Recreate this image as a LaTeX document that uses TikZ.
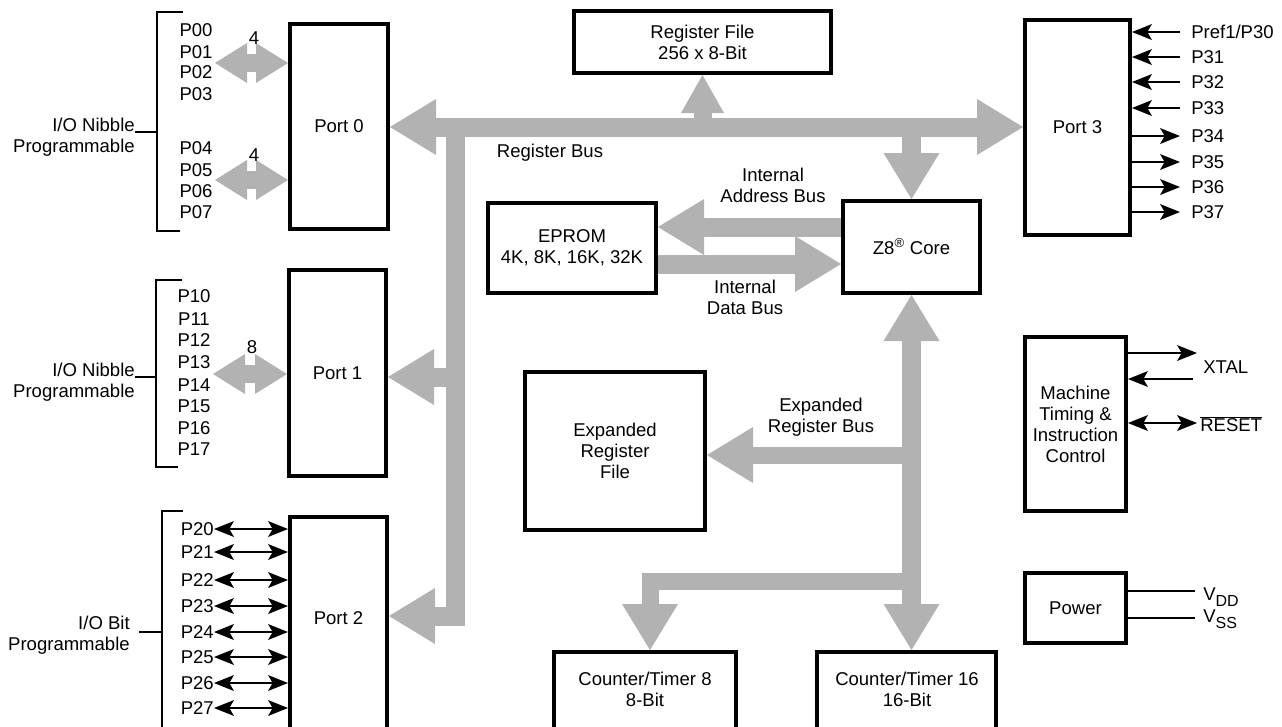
\documentclass[tikz,border=0pt]{standalone}
\usepackage{fontspec}
\setmainfont{Liberation Sans}
\usetikzlibrary{arrows.meta}
\definecolor{busgray}{RGB}{178,178,178}
\begin{document}
\begin{tikzpicture}[x=0.75pt,y=-0.75pt,
  every node/.style={font=\fontsize{13.9pt}{15.75pt}\selectfont, inner sep=0pt},
  box/.style={draw, line width=3pt, align=center},
  txt/.style={align=center},
  bigtip/.tip={Triangle[length=34.5pt,width=42pt,line width=0pt]},
  smalltip/.tip={Triangle[length=24pt,width=30pt,line width=0pt]},
  regtip/.tip={Triangle[length=28.5pt,width=32.25pt,line width=0pt]},
  pintip/.tip={Stealth[length=15pt,width=12pt,inset=3.5pt,line width=0pt]},
  busarr/.style={draw=busgray, line width=14.25pt, line cap=butt, -bigtip},
  busdbl/.style={draw=busgray, line width=14.25pt, line cap=butt, bigtip-bigtip},
  smalldbl/.style={draw=busgray, line width=13.5pt, line cap=butt, smalltip-smalltip},
  regarr/.style={draw=busgray, line width=13.5pt, line cap=butt, -regtip},
  pin/.style={line width=1.4pt},
  brk/.style={line width=1.6pt}]
\useasboundingbox (0,0) rectangle (1282,726);
\clip (0,0) rectangle (1282,726);

% ---------- boxes ----------
\node[box, minimum width=73.5pt, minimum height=153.75pt] (port0) at (339,126.5) {Port 0};
\node[box, minimum width=72.75pt, minimum height=154.5pt] (port1) at (337.5,373) {Port 1};
\node[box, minimum width=72.75pt, minimum height=167.25pt] (port2) at (338.5,628.5) {};
\node[txt] (port2t) at (338.5,618) {Port 2};
\node[box, minimum width=78.75pt, minimum height=161.25pt] (port3) at (1077.5,127.5) {Port 3};
\node[box, minimum width=192.75pt, minimum height=46.5pt] (regfile) at (702.5,42) {Register File\\256 x 8-Bit};
\node[box, minimum width=126pt, minimum height=67.5pt] (eprom) at (572,248) {EPROM\\4K, 8K, 16K, 32K};
\node[box, minimum width=102.75pt, minimum height=69pt] (z8) at (911.5,247) {Z8\textsuperscript{\textregistered} Core};
\node[box, minimum width=135pt, minimum height=118.5pt] (expreg) at (615,451) {Expanded\\Register\\File};
\node[box, minimum width=136.5pt, minimum height=73.5pt] (ct8) at (645,701) {};
\node[txt] (ct8t) at (645,689) {Counter/Timer 8\\8-Bit};
\node[box, minimum width=134.25pt, minimum height=73.5pt] (ct16) at (906.5,701) {};
\node[txt] (ct16t) at (907,689) {Counter/Timer 16\\16-Bit};
\node[box, minimum width=75.75pt, minimum height=130.5pt] (mach) at (1075.5,424) {Machine\\Timing \&\\Instruction\\Control};
\node[box, minimum width=75.75pt, minimum height=52.5pt] (power) at (1075.5,608) {Power};

% ---------- grey buses ----------
\coordinate (rb) at (455,127);
\coordinate (p1c) at (455,377);
\coordinate (p2c) at (455,616);
\draw[busdbl] (rb -| port0.east) -- (rb -| port3.west);
\draw[busarr, line join=miter] (rb) -- (p2c) -- (p2c -| port2.east);
\draw[busarr] (p1c) -- (p1c -| port1.east);
\draw[regarr] (regfile.south |- rb) -- (regfile.south);
\draw[busarr] (z8.north |- rb) -- (z8.north);

\coordinate (ab) at (750,227);
\coordinate (db) at (750,264);
\draw[busarr] (ab -| z8.west) -- (ab -| eprom.east);
\draw[busarr] (db -| eprom.east) -- (db -| z8.west);

\draw[busdbl] (z8.south) -- (z8.south |- ct16.north);
\coordinate (eb) at (911.5,455);
\draw[busarr, line width=12.75pt] (eb) -- (eb -| expreg.east);
\coordinate (cb) at (911.5,581);
\coordinate (cc) at (650,581);
\draw[busarr, line width=12.75pt, line join=miter] (cb) -- (cc) -- (cc |- ct8.north);

\node[txt] (rbus) at (550,153) {Register Bus};
\node[txt] (iab) at (773,185) {Internal\\Address Bus};
\node[txt] (idb) at (745,297.5) {Internal\\Data Bus};
\node[txt] (erb) at (821,417) {Expanded\\Register Bus};

% ---------- Port 0 side ----------
\coordinate (a0) at (215,63);
\coordinate (a1) at (215,180);
\coordinate (a2) at (213,374);
\draw[smalldbl] (a0) -- (a0 -| port0.west);
\draw[smalldbl] (a1) -- (a1 -| port0.west);
\draw[smalldbl] (a2) -- (a2 -| port1.west);
\node (n4a) at (254,38) {4};
\node (n4b) at (254,155) {4};
\node (n8) at (252,347) {8};

\node (p00) at (196,30) {P00};
\node (p01) at (196,52) {P01};
\node (p02) at (196,72) {P02};
\node (p03) at (196,94) {P03};
\node (p04) at (196,148) {P04};
\node (p05) at (196,170) {P05};
\node (p06) at (196,191) {P06};
\node (p07) at (196,212) {P07};

\coordinate (b0t) at (183,12);
\coordinate (b0tc) at (157,12);
\coordinate (b0bc) at (157,231);
\coordinate (b0b) at (180,231);
\coordinate (b0m) at (157,132);
\draw[brk] (b0t) -- (b0tc) -- (b0bc) -- (b0b);
\node[anchor=east, align=right] (io0) at (135,137) {I/O Nibble\\Programmable};
\draw[brk] (io0.east |- b0m) -- (b0m);

% ---------- Port 1 side ----------
\node (p10) at (194,296) {P10};
\node (p11) at (194,319) {P11};
\node (p12) at (194,340) {P12};
\node (p13) at (194,362) {P13};
\node (p14) at (194,385) {P14};
\node (p15) at (194,406) {P15};
\node (p16) at (194,428) {P16};
\node (p17) at (194,449) {P17};
\coordinate (b1t) at (182,280);
\coordinate (b1tc) at (156,280);
\coordinate (b1bc) at (156,467);
\coordinate (b1b) at (178,467);
\coordinate (b1m) at (156,377);
\draw[brk] (b1t) -- (b1tc) -- (b1bc) -- (b1b);
\node[anchor=east, align=right] (io1) at (135,382.5) {I/O Nibble\\Programmable};
\draw[brk] (io1.east |- b1m) -- (b1m);

% ---------- Port 2 side ----------
\foreach \n/\y in {0/529,1/552,2/580,3/606,4/632,5/657,6/683,7/708}{
  \node[anchor=east] (p2\n) at (214,\y) {P2\n};
  \draw[pin, pintip-pintip] (p2\n.east) -- (p2\n.east -| port2.west);
}
\coordinate (b2t) at (183,511);
\coordinate (b2tc) at (162,511);
\coordinate (b2bc) at (162,740);
\coordinate (b2m) at (162,632);
\draw[brk] (b2t) -- (b2tc) -- (b2bc);
\node[anchor=east, align=right] (io2) at (130,635) {I/O Bit\\Programmable};
\draw[brk] (io2.east |- b2m) ++(9,0) -- (b2m);

% ---------- Port 3 side ----------
\foreach \n/\y/\t in {0/32/Pref1\slash P30,1/57/P31,2/82/P32,3/108/P33}{
  \coordinate (e3\n) at (1180,\y);
  \node[anchor=west] (p3\n) at (1191,\y) {\t};
  \draw[pin, -pintip] (e3\n) -- (e3\n -| port3.east);
}
\foreach \n/\y in {4/136,5/162,6/187,7/212}{
  \coordinate (e3\n) at (1180,\y);
  \node[anchor=west] (p3\n) at (1191,\y) {P3\n};
  \draw[pin, -pintip] (e3\n -| port3.east) -- (e3\n);
}

% ---------- machine timing ----------
\coordinate (m1) at (1197,353);
\coordinate (m2) at (1193,379);
\coordinate (m3) at (1197,423);
\draw[pin, -pintip] (m1 -| mach.east) -- (m1);
\draw[line width=0.9pt, -pintip] (m2) -- (m2 -| mach.east);
\draw[pin, pintip-pintip] (m3 -| mach.east) -- (m3);
\node[anchor=west] (xtal) at (1203,367) {XTAL};
\node[anchor=west] (reset) at (1200,424) {$\overline{\hbox{RESET}}$};

% ---------- power ----------
\coordinate (v1) at (1195,591);
\coordinate (v2) at (1195,618);
\draw[line width=1.7pt] (v1 -| power.east) -- (v1);
\draw[line width=1.7pt] (v2 -| power.east) -- (v2);
\node[anchor=west] (vdd) at (1203,597) {V\raisebox{-0.3em}{\fontsize{12}{12}\selectfont DD}};
\node[anchor=west] (vss) at (1203,619) {V\raisebox{-0.3em}{\fontsize{12}{12}\selectfont SS}};
\end{tikzpicture}
\end{document}
